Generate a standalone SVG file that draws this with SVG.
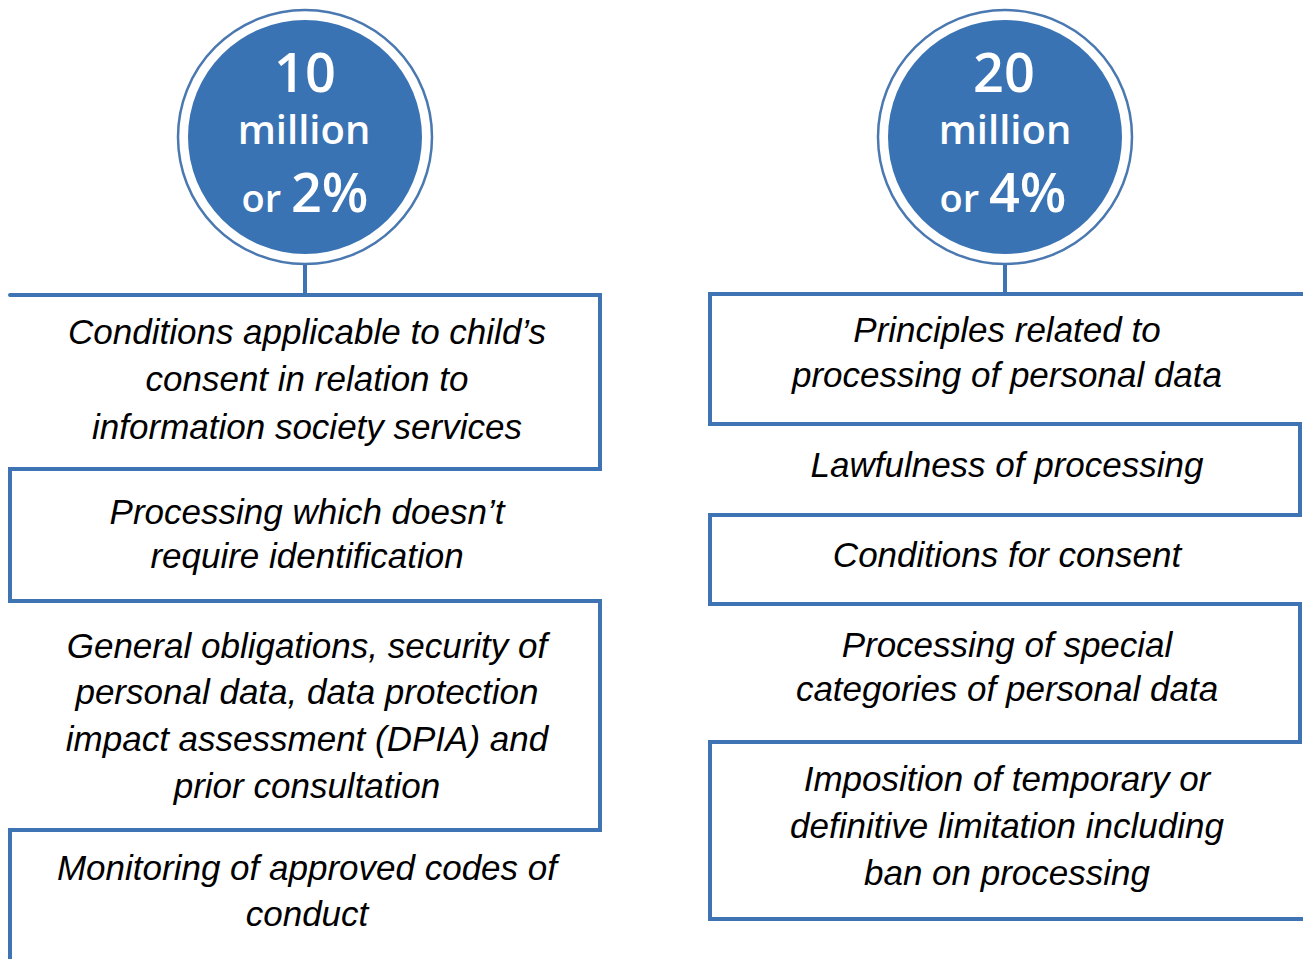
<svg xmlns="http://www.w3.org/2000/svg" width="1303" height="959" viewBox="0 0 1303 959">
<style>
.bg{fill:#ffffff}
.ring{fill:#ffffff;stroke:#4a78b0;stroke-width:2.5}
.disc{fill:#3a73b3}
.ct{fill:#ffffff;font-family:"Open Sans","Liberation Sans",sans-serif;font-weight:600;text-anchor:middle}
.ln{fill:none;stroke:#3e74b3;stroke-width:4;stroke-linecap:round;stroke-linejoin:miter}
.t{fill:#000000;font-family:"Liberation Sans",Arial,sans-serif;font-style:italic;font-size:35px;text-anchor:middle}
</style>
<rect class="bg" x="0" y="0" width="1303" height="959"/>
<g id="connectors">
<path class="ln" d="M305,263 V295"/>
<path class="ln" d="M10,295 H600 V469 H10 V601 H600 V830 H10 V962"/>
<path class="ln" d="M1005,263 V294"/>
<path class="ln" d="M1306,294 H710 V424 H1300 V515 H710 V604 H1300 V742 H710 V919 H1306"/>
</g>
<g id="circle-left">
<circle class="ring" cx="305" cy="137" r="127"/>
<circle class="disc" cx="305" cy="137" r="117"/>
<text class="ct" x="305" y="92" font-size="54">10</text>
<text class="ct" x="304" y="144" font-size="40">million</text>
<text class="ct" x="305" y="212"><tspan font-size="38">or </tspan><tspan font-size="54">2%</tspan></text>
</g>
<g id="circle-right">
<circle class="ring" cx="1005" cy="137" r="127"/>
<circle class="disc" cx="1005" cy="137" r="117"/>
<text class="ct" x="1004" y="92" font-size="54">20</text>
<text class="ct" x="1005" y="144" font-size="40">million</text>
<text class="ct" x="1003" y="212"><tspan font-size="38">or </tspan><tspan font-size="54">4%</tspan></text>
</g>
<g id="node-l1">
<text class="t" x="307" y="344">Conditions applicable to child’s</text>
<text class="t" x="307" y="391">consent in relation to</text>
<text class="t" x="307" y="439">information society services</text>
</g>
<g id="node-l2">
<text class="t" x="307" y="524">Processing which doesn’t</text>
<text class="t" x="307" y="568">require identification</text>
</g>
<g id="node-l3">
<text class="t" x="307" y="658">General obligations, security of</text>
<text class="t" x="307" y="704">personal data, data protection</text>
<text class="t" x="307" y="751">impact assessment (DPIA) and</text>
<text class="t" x="307" y="798">prior consultation</text>
</g>
<g id="node-l4">
<text class="t" x="307" y="880">Monitoring of approved codes of</text>
<text class="t" x="307" y="926">conduct</text>
</g>
<g id="node-r1">
<text class="t" x="1007" y="342">Principles related to</text>
<text class="t" x="1007" y="387">processing of personal data</text>
</g>
<g id="node-r2">
<text class="t" x="1007" y="477">Lawfulness of processing</text>
</g>
<g id="node-r3">
<text class="t" x="1007" y="567">Conditions for consent</text>
</g>
<g id="node-r4">
<text class="t" x="1007" y="657">Processing of special</text>
<text class="t" x="1007" y="701">categories of personal data</text>
</g>
<g id="node-r5">
<text class="t" x="1007" y="791">Imposition of temporary or</text>
<text class="t" x="1007" y="838">definitive limitation including</text>
<text class="t" x="1007" y="885">ban on processing</text>
</g>
</svg>
